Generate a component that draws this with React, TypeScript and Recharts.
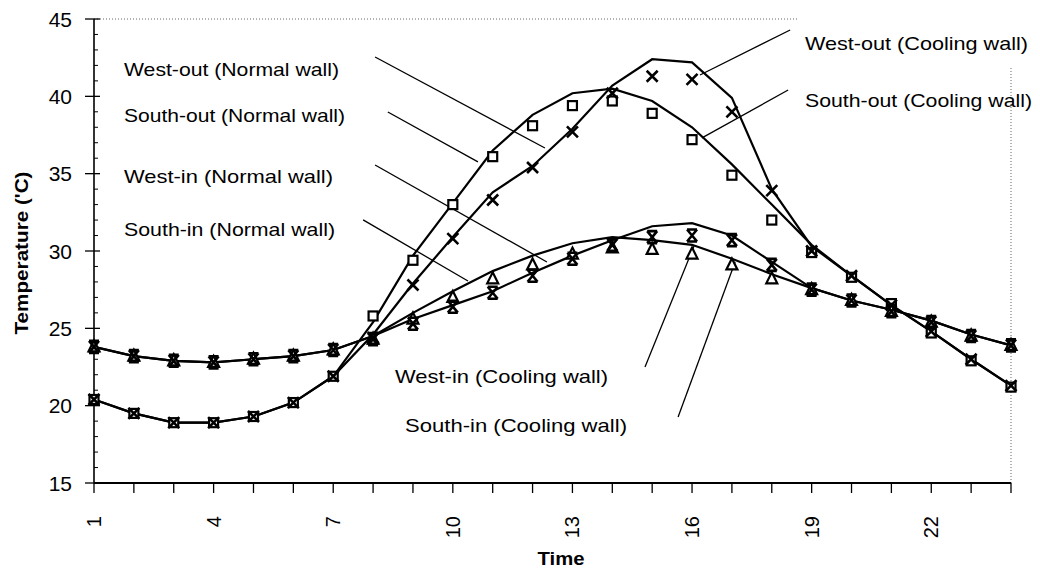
import React from 'react';
import { LineChart, Line, XAxis, YAxis, ReferenceLine } from 'recharts';

// hour of day
const hours = [1, 2, 3, 4, 5, 6, 7, 8, 9, 10, 11, 12, 13, 14, 15, 16, 17, 18, 19, 20, 21, 22, 23, 24];

// normal wall (solid lines)
const westOutNormal = [20.4, 19.5, 18.9, 18.9, 19.3, 20.2, 21.9, 24.6, 27.9, 30.9, 33.8, 35.5, 37.9, 40.7, 42.4, 42.2, 39.9, 34.0, 30.3, 28.4, 26.5, 24.8, 23.0, 21.3];
const southOutNormal = [20.4, 19.5, 18.9, 18.9, 19.3, 20.2, 21.9, 25.4, 29.7, 33.1, 36.5, 38.8, 40.2, 40.5, 39.7, 38.0, 35.6, 33.0, 30.4, 28.4, 26.5, 24.8, 23.0, 21.3];
const westInNormal = [23.8, 23.2, 22.9, 22.8, 23.0, 23.2, 23.6, 24.5, 25.6, 26.5, 27.4, 28.6, 29.7, 30.7, 31.6, 31.8, 31.0, 29.3, 27.6, 26.8, 26.2, 25.5, 24.6, 23.9];
const southInNormal = [23.8, 23.2, 22.9, 22.8, 23.0, 23.2, 23.6, 24.5, 26.0, 27.4, 28.7, 29.7, 30.5, 30.9, 30.7, 30.4, 29.5, 28.5, 27.6, 26.8, 26.2, 25.5, 24.6, 23.9];

// cooling wall (markers)
const westOutCooling = [20.4, 19.5, 18.9, 18.9, 19.3, 20.2, 21.9, 24.4, 27.8, 30.8, 33.3, 35.4, 37.7, 40.2, 41.3, 41.1, 39.0, 33.9, 30.0, 28.4, 26.5, 24.8, 23.0, 21.3];
const southOutCooling = [20.4, 19.5, 18.9, 18.9, 19.3, 20.2, 21.9, 25.8, 29.4, 33.0, 36.1, 38.1, 39.4, 39.7, 38.9, 37.2, 34.9, 32.0, 29.9, 28.3, 26.6, 24.7, 22.9, 21.2];
const westInCooling = [23.8, 23.2, 22.9, 22.8, 23.0, 23.2, 23.6, 24.3, 25.3, 26.4, 27.3, 28.4, 29.5, 30.4, 30.9, 31.0, 30.7, 29.1, 27.5, 26.8, 26.1, 25.4, 24.5, 23.9];
const southInCooling = [23.8, 23.2, 22.9, 22.8, 23.0, 23.2, 23.6, 24.3, 25.6, 27.0, 28.2, 29.1, 29.8, 30.2, 30.1, 29.8, 29.1, 28.2, 27.5, 26.8, 26.1, 25.4, 24.5, 23.9];

const xLabelTicks = [1, 4, 7, 10, 13, 16, 19, 22];
const yTicks = [15, 16, 17, 18, 19, 20, 21, 22, 23, 24, 25, 26, 27, 28, 29, 30, 31, 32, 33, 34, 35, 36, 37, 38, 39, 40, 41, 42, 43, 44, 45];

const data = hours.map((h, i) => ({
  hour: h,
  westOutNormal: westOutNormal[i],
  southOutNormal: southOutNormal[i],
  westInNormal: westInNormal[i],
  southInNormal: southInNormal[i],
  westOutCooling: westOutCooling[i],
  southOutCooling: southOutCooling[i],
  westInCooling: westInCooling[i],
  southInCooling: southInCooling[i],
}));

// leader lines from the labels to the curves, in data units
const leaders = [
  [{ x: 8.05, y: 42.54 }, { x: 12.31, y: 36.66 }],
  [{ x: 8.37, y: 38.99 }, { x: 10.63, y: 35.76 }],
  [{ x: 8.05, y: 35.56 }, { x: 12.36, y: 29.29 }],
  [{ x: 7.75, y: 32.01 }, { x: 10.38, y: 28.06 }],
  [{ x: 18.46, y: 44.29 }, { x: 16.2, y: 41.38 }],
  [{ x: 18.41, y: 40.41 }, { x: 16.25, y: 37.31 }],
  [{ x: 14.82, y: 22.5 }, { x: 16.05, y: 30.33 }],
  [{ x: 15.65, y: 19.27 }, { x: 17.08, y: 29.29 }],
];

const labels = [
  { text: 'West-out (Normal wall)', x: 124, y: 76, w: 215 },
  { text: 'South-out (Normal wall)', x: 124, y: 122, w: 221 },
  { text: 'West-in (Normal wall)', x: 124, y: 183, w: 209 },
  { text: 'South-in (Normal wall)', x: 124, y: 236, w: 211 },
  { text: 'West-out (Cooling wall)', x: 805, y: 50, w: 223 },
  { text: 'South-out (Cooling wall)', x: 805, y: 107, w: 227 },
  { text: 'West-in (Cooling wall)', x: 395, y: 383, w: 213 },
  { text: 'South-in (Cooling wall)', x: 405, y: 432, w: 222 },
];

const FONT = '"Liberation Sans", Arial, sans-serif';

const XMark = (props: any) => {
  const { cx, cy } = props;
  if (cx == null || cy == null) return null;
  return (
    <path
      d={`M${cx - 5.5},${cy - 5.5}L${cx + 5.5},${cy + 5.5}M${cx + 5.5},${cy - 5.5}L${cx - 5.5},${cy + 5.5}`}
      stroke="#000"
      strokeWidth={2.6}
      fill="none"
    />
  );
};

const SquareMark = (props: any) => {
  const { cx, cy } = props;
  if (cx == null || cy == null) return null;
  return <rect x={cx - 4.5} y={cy - 4.5} width={9} height={9} stroke="#000" strokeWidth={2.2} fill="#fff" />;
};

const StarMark = (props: any) => {
  const { cx, cy } = props;
  if (cx == null || cy == null) return null;
  return (
    <path
      d={`M${cx - 5},${cy - 6}L${cx + 5},${cy + 6}M${cx + 5},${cy - 6}L${cx - 5},${cy + 6}M${cx - 5},${cy - 6}H${cx + 5}M${cx - 5},${cy + 6}H${cx + 5}`}
      stroke="#000"
      strokeWidth={2.6}
      fill="none"
    />
  );
};

const TriangleMark = (props: any) => {
  const { cx, cy } = props;
  if (cx == null || cy == null) return null;
  return (
    <path
      d={`M${cx},${cy - 6.5}L${cx + 5.5},${cy + 4.5}L${cx - 5.5},${cy + 4.5}Z`}
      stroke="#000"
      strokeWidth={2.2}
      fill="#fff"
    />
  );
};

const YTick = (props: any) => {
  const { x, y, payload } = props;
  const v = payload.value;
  const major = v % 5 === 0;
  return (
    <g>
      {major ? (
        <line x1={x - 9} x2={x + 6} y1={y} y2={y} stroke="#000" strokeWidth={1.3} />
      ) : (
        <line x1={x} x2={x + 4} y1={y} y2={y} stroke="#000" strokeWidth={1} />
      )}
      {major && (
        <text x={x - 22} y={y} textAnchor="end" dominantBaseline="central" fontSize={21} fontFamily={FONT} fill="#000">
          {v}
        </text>
      )}
    </g>
  );
};

const XTick = (props: any) => {
  const { x, y, payload } = props;
  const v = payload.value;
  return (
    <g>
      <line x1={x} x2={x} y1={y} y2={y + 10} stroke="#000" strokeWidth={1.3} />
      {xLabelTicks.includes(v) && (
        <text
          transform={`translate(${x},${y + 33}) rotate(-90)`}
          textAnchor="end"
          dominantBaseline="central"
          fontSize={20}
          fontFamily={FONT}
          fill="#000"
        >
          {v}
        </text>
      )}
    </g>
  );
};

export default function App() {
  return (
    <div style={{ position: 'absolute', left: 0, top: 0, width: 1040, height: 569, background: '#fff' }}>
      <LineChart width={1040} height={569} data={data} margin={{ top: 19, right: 29, bottom: 26, left: 34 }}>
        <XAxis
          dataKey="hour"
          type="number"
          domain={[1, 24]}
          ticks={hours}
          interval={0}
          tickSize={0}
          tickMargin={0}
          tickLine={false}
          tick={<XTick />}
          height={60}
          axisLine={{ stroke: '#000', strokeWidth: 2 }}
        />
        <YAxis
          type="number"
          domain={[15, 45]}
          ticks={yTicks}
          interval={0}
          tickSize={0}
          tickMargin={0}
          tickLine={false}
          tick={<YTick />}
          width={60}
          axisLine={{ stroke: '#000', strokeWidth: 1.6 }}
        />
        <ReferenceLine
          segment={[{ x: 1, y: 45 }, { x: 18.66, y: 45 }]}
          stroke="#666"
          strokeDasharray="1 2"
          ifOverflow="visible"
        />
        <ReferenceLine
          segment={[{ x: 24, y: 15 }, { x: 24, y: 41.9 }]}
          stroke="#666"
          strokeDasharray="1 2"
          ifOverflow="visible"
        />
        {leaders.map((seg, i) => (
          <ReferenceLine key={`leader-${i}`} segment={seg} stroke="#000" strokeWidth={1.3} ifOverflow="visible" />
        ))}
        <Line dataKey="westOutNormal" type="linear" stroke="#000" strokeWidth={2.2} dot={false} activeDot={false} isAnimationActive={false} />
        <Line dataKey="southOutNormal" type="linear" stroke="#000" strokeWidth={2.2} dot={false} activeDot={false} isAnimationActive={false} />
        <Line dataKey="westInNormal" type="linear" stroke="#000" strokeWidth={2.2} dot={false} activeDot={false} isAnimationActive={false} />
        <Line dataKey="southInNormal" type="linear" stroke="#000" strokeWidth={2.2} dot={false} activeDot={false} isAnimationActive={false} />
        <Line dataKey="southOutCooling" stroke="none" dot={<SquareMark />} activeDot={false} isAnimationActive={false} />
        <Line dataKey="southInCooling" stroke="none" dot={<TriangleMark />} activeDot={false} isAnimationActive={false} />
        <Line dataKey="westOutCooling" stroke="none" dot={<XMark />} activeDot={false} isAnimationActive={false} />
        <Line dataKey="westInCooling" stroke="none" dot={<StarMark />} activeDot={false} isAnimationActive={false} />
      </LineChart>
      <svg width={1040} height={569} style={{ position: 'absolute', left: 0, top: 0, pointerEvents: 'none' }}>
        {labels.map((l) => (
          <text
            key={l.text}
            x={l.x}
            y={l.y}
            fontSize={19}
            fontFamily={FONT}
            fill="#000"
            textLength={l.w}
            lengthAdjust="spacingAndGlyphs"
          >
            {l.text}
          </text>
        ))}
        <text x={561} y={565} textAnchor="middle" fontSize={19} fontWeight="bold" fontFamily={FONT} textLength={47} lengthAdjust="spacingAndGlyphs">
          Time
        </text>
        <text
          transform="translate(28,253) rotate(-90)"
          textAnchor="middle"
          fontSize={18}
          fontWeight="bold"
          fontFamily={FONT}
          textLength={163}
          lengthAdjust="spacingAndGlyphs"
        >
          Temperature ('C)
        </text>
      </svg>
    </div>
  );
}
